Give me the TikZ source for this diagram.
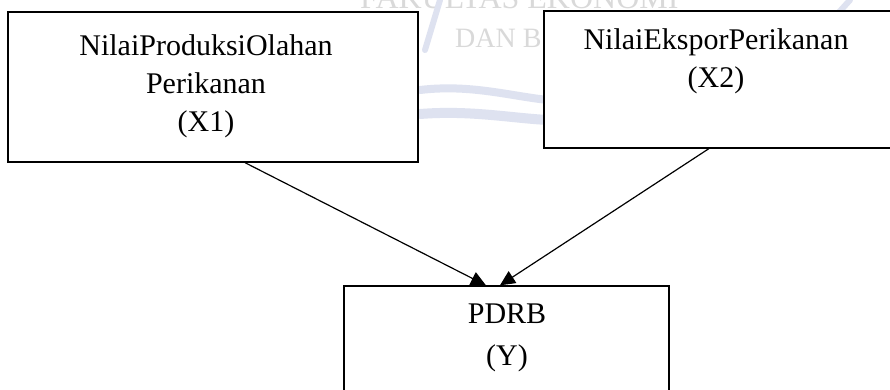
\documentclass[tikz,border=0pt]{standalone}
\usepackage{fontspec}
\setmainfont{Liberation Serif}
\usetikzlibrary{arrows.meta,calc}
\definecolor{wmblue}{RGB}{222,226,240}
\begin{document}
\begin{tikzpicture}[x=1pt,y=-1pt,
  box/.style={draw=black,line width=1.4pt,fill=white,rectangle,inner sep=0pt},
  lbl/.style={align=center,font=\fontsize{30}{38}\selectfont,inner sep=0pt},
  link/.style={line width=1.2pt,-{Triangle[length=15pt,width=14pt]}},
  wm/.style={text=gray!30,inner sep=0pt,anchor=base west},
  swoosh/.style={draw=wmblue,line cap=round}]
\useasboundingbox (0,0) rectangle (890,389);
\clip (0,0) rectangle (890,389);
\fill[white] (0,0) rectangle (890,389);
% faint watermark
\node[wm,font=\fontsize{32}{34}\selectfont] (wma) at (360,8) {FAKULTAS EKONOMI};
\node[wm,font=\fontsize{28}{30}\selectfont] (wmb) at (455,47) {DAN B};
\draw[swoosh,line width=8pt] (420,90) .. controls (470,84) and (510,96) .. (548,100);
\draw[swoosh,line width=10pt] (420,114) .. controls (470,110) and (510,118) .. (548,120);
\draw[swoosh,line width=6pt] (440,0) -- (425,50);
\draw[swoosh,line width=6pt] (850,0) -- (805,50);
% boxes
\node[box,minimum width=410pt,minimum height=150pt] (x1) at (213,87) {};
\node[box,minimum width=356pt,minimum height=137pt] (x2) at (722,79.5) {};
\node[box,minimum width=325pt,minimum height=114pt] (y) at (506.5,343) {};
% labels
\node[lbl] (x1t) at (206,86) {NilaiProduksiOlahan\\Perikanan\\(X1)};
\node[lbl] (x2t) at (716,61) {NilaiEksporPerikanan\\(X2)};
\node[lbl] (yt) at (507,338) {PDRB\\[4pt](Y)};
% connectors
\coordinate (a1) at ($(x1.south west)!0.578!(x1.south east)$);
\coordinate (a2) at ($(x2.south west)!0.463!(x2.south east)$);
\coordinate (e1) at ($(y.north west)!0.437!(y.north east)$);
\coordinate (e2) at ($(y.north west)!0.48!(y.north east)$);
\draw[link] (a1) -- (e1);
\draw[link] (a2) -- (e2);
\end{tikzpicture}
\end{document}
